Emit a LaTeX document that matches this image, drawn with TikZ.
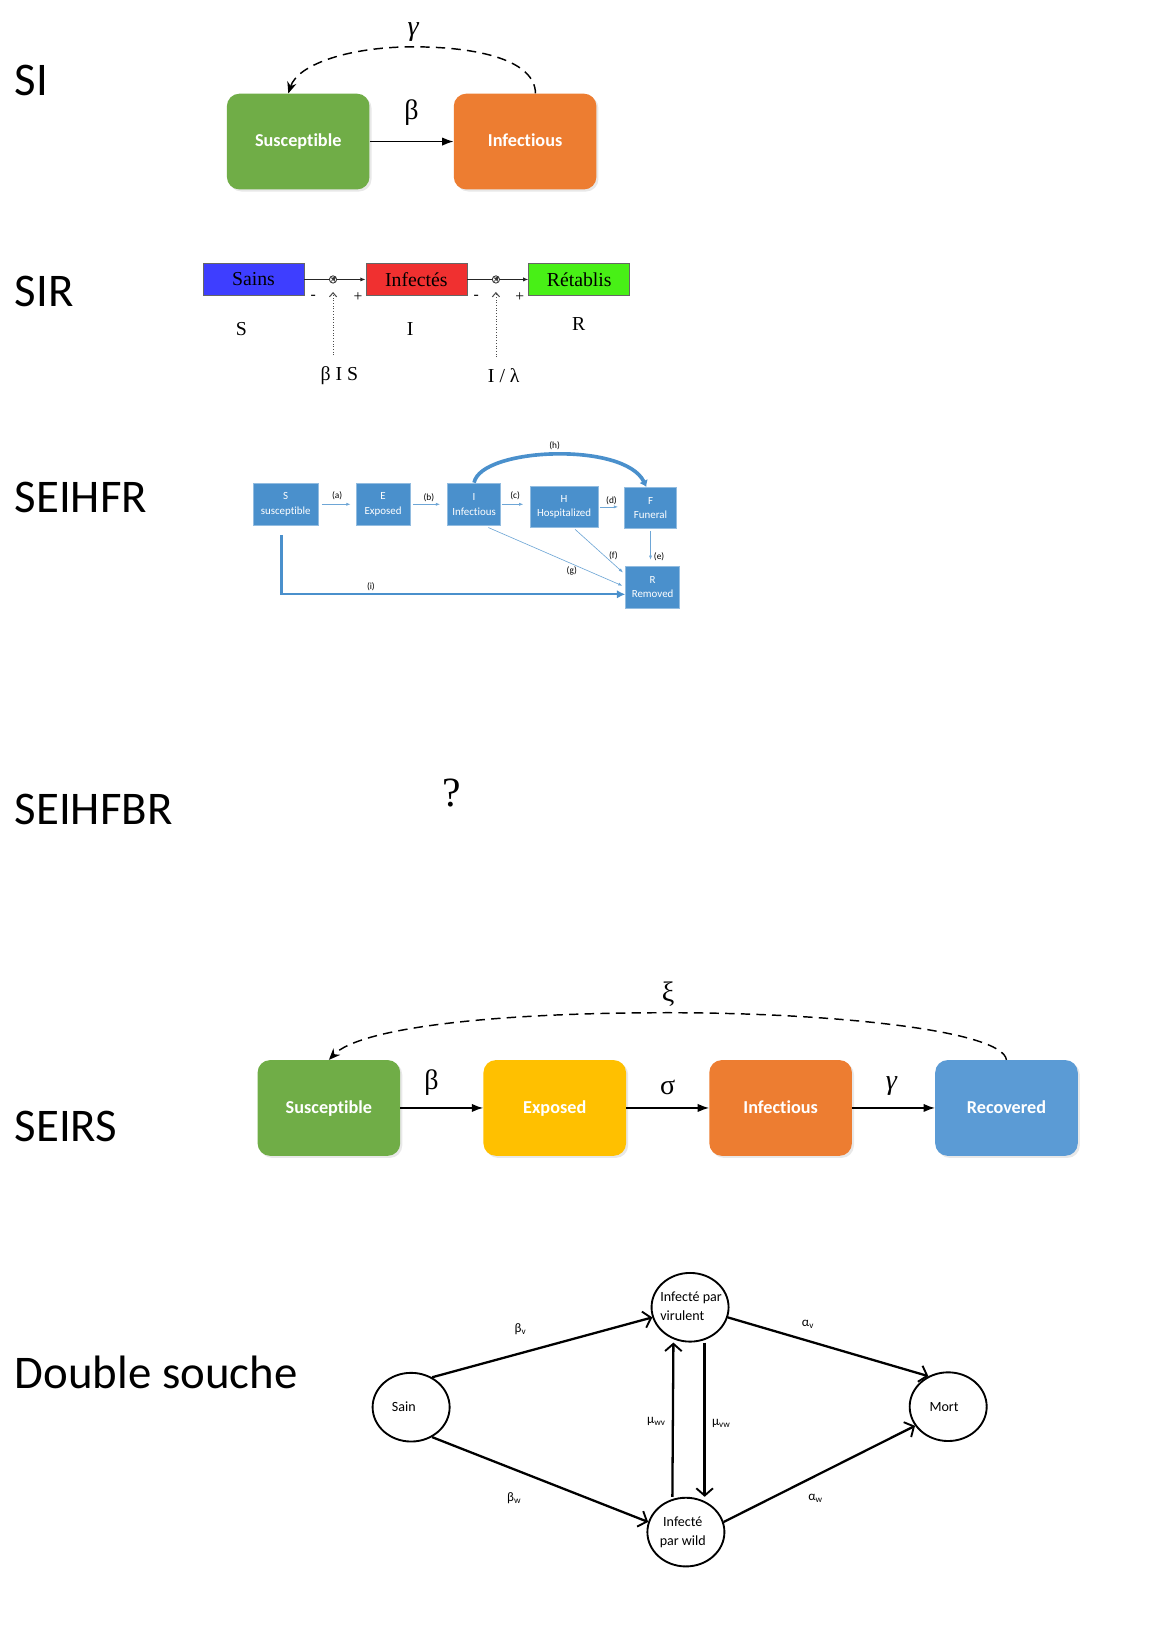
\documentclass[tikz,border=0pt]{standalone}
\usepackage{fontspec}
\setmainfont{Liberation Serif}
\newfontfamily\calibri[Ligatures=NoCommon]{Carlito}
\usetikzlibrary{arrows.meta,shapes.geometric,shadows,calc}

\definecolor{cgreen}{RGB}{112,173,71}
\definecolor{corange}{RGB}{237,125,49}
\definecolor{cyellow}{RGB}{255,192,0}
\definecolor{cblue}{RGB}{91,155,213}
\definecolor{sainsblue}{RGB}{62,62,255}
\definecolor{infred}{RGB}{240,48,48}
\definecolor{retgreen}{RGB}{72,240,22}
\definecolor{seihblue}{RGB}{74,144,204}

\tikzset{
  title/.style={font=\calibri\fontsize{45}{50}\selectfont, anchor=base west, inner sep=0},
  compart/.style={rounded corners=12pt, minimum width=137pt, minimum height=92pt,
    text=white, font=\calibri\bfseries\fontsize{17.5}{19}\selectfont, text height=12pt, text depth=2pt,
    drop shadow={opacity=0.18, shadow xshift=2pt, shadow yshift=-2pt}},
  flow/.style={-{Latex[length=11pt,width=8pt]}, line width=1.3pt},
  feedback/.style={-{Stealth[length=11pt,width=9pt]}, line width=1.4pt, dash pattern=on 9pt off 6pt},
  rate/.style={font=\fontsize{27}{30}\selectfont},
  sirbox/.style={draw=black!60, line width=0.6pt, minimum width=97pt, minimum height=31pt,
    inner sep=0, font=\fontsize{19}{21}\selectfont},
  sirflow/.style={-{Latex[length=5pt,width=4pt]}, line width=1.4pt, black!85},
  sirjoint/.style={circle, draw=black!80, line width=0.8pt, fill=white, inner sep=0, minimum size=7pt,
    path picture={\draw[line width=0.5pt] (path picture bounding box.north west) -- (path picture bounding box.south east)
      (path picture bounding box.south west) -- (path picture bounding box.north east);}},
  sirtext/.style={font=\fontsize{19}{21}\selectfont, inner sep=0},
  sirsign/.style={font=\fontsize{15}{15}\selectfont, inner sep=0},
  probe/.style={dotted, line width=0.6pt, black!70, -{Straight Barb[length=4pt,width=7pt,line width=1pt]}},
  seihbox/.style={fill=seihblue, draw=seihblue!60!white, line width=0.5pt, text=white,
    font=\calibri\fontsize{10.5}{14}\selectfont, align=center, inner sep=0, minimum height=41pt},
  seiharrow/.style={-{Latex[length=4pt,width=3pt]}, line width=0.6pt, seihblue!80!white},
  seihlabel/.style={font=\calibri\fontsize{9}{9}\selectfont, inner sep=1pt, text=black},
  state/.style={ellipse, draw, line width=1.8pt, minimum width=74pt, minimum height=66pt, inner sep=0},
  statetext/.style={font=\calibri\fontsize{13.5}{18}\selectfont, inner sep=0},
  trans/.style={-{Straight Barb[length=7pt,width=16pt,line width=1.8pt]}, line width=2.2pt},
  translabel/.style={font=\calibri\fontsize{12.5}{13}\selectfont, inner sep=0},
}

\begin{document}
\begin{tikzpicture}[x=1pt,y=-1pt]
  \useasboundingbox[fill=white] (0,0) rectangle (1120.3,1568);

  % model names
  \node[title] (tSI) at (14,92) {SI};
  \node[title] (tSIR) at (14,294) {SIR};
  \node[title] (tSEIHFR) at (14,492) {SEIHFR};
  \node[title] (tSEIHFBR) at (14,792) {SEIHFBR};
  \node[title] (tSEIRS) at (14,1097) {SEIRS};
  \node[title] (tDouble) at (14,1334) {Double souche};

  % SI
  \node[compart, fill=cgreen] (siS) at (286.5,136) {Susceptible};
  \node[compart, fill=corange] (siI) at (504.5,136) {Infectious};
  \draw[flow] (siS) -- node[rate, yshift=28pt] {β} (siI);
  \draw[feedback] ([xshift=10pt]siI.north) .. controls (514,58) and (460,45) .. (397,45)
    node[rate, above=1pt] {\itshape γ}
    .. controls (335,45) and (286,62) .. ([xshift=-9.5pt]siS.north);

  % SIR
  \node[sirbox, fill=sainsblue] (sains) at (243.5,268.5) {Sains};
  \node[sirbox, fill=infred] (infec) at (400,268.5) {Infectés};
  \node[sirbox, fill=retgreen] (retab) at (556.5,268.5) {Rétablis};
  \draw[sirflow] (sains) -- node[sirjoint, pos=0.47] (j1) {} (infec);
  \draw[sirflow] (infec) -- node[sirjoint, pos=0.47] (j2) {} (retab);
  \node[sirsign] at ([xshift=-19pt,yshift=-17pt]j1.center) {-};
  \node[sirsign] at ([xshift=24pt,yshift=-17pt]j1.center) {+};
  \node[sirsign] at ([xshift=-19pt,yshift=-17pt]j2.center) {-};
  \node[sirsign] at ([xshift=23pt,yshift=-17pt]j2.center) {+};
  \node[sirtext] (sirS) at (232,316) {S};
  \node[sirtext] (sirI) at (394,316) {I};
  \node[sirtext] (sirR) at (556,311) {R};
  \node[sirtext] (bis) at (326,361) {β I S};
  \node[sirtext] (il) at (484,361) {I / λ};
  \draw[probe] ($(j1 |- bis.north)+(0,-11)$) -- ([yshift=-12pt]j1.center);
  \draw[probe] ($(j2 |- il.north)+(0,-11)$) -- ([yshift=-12pt]j2.center);

  % SEIHFR
  \node[seihbox, minimum width=63pt] (hS) at (274.5,484.5) {S\\susceptible};
  \node[seihbox, minimum width=52pt] (hE) at (368,484.5) {E\\Exposed};
  \node[seihbox, minimum width=51pt] (hI) at (455.5,484.5) {I\\Infectious};
  \node[seihbox, minimum width=66pt, minimum height=40pt] (hH) at (542,487) {H\\Hospitalized};
  \node[seihbox, minimum width=50pt, minimum height=40pt] (hF) at (625,488) {F\\Funeral};
  \node[seihbox, minimum width=52pt, minimum height=40pt] (hR) at (627,564) {R\\Removed};
  \draw[seiharrow, shorten <=3pt, shorten >=5pt] (hS) -- node[seihlabel, above=3pt] {(a)} (hE);
  \draw[seiharrow, shorten <=3pt, shorten >=7pt] (hE) -- node[seihlabel, above=1pt] {(b)} (hI);
  \draw[seiharrow, shorten <=1pt, shorten >=6pt] (hI.east) -- node[seihlabel, above=3pt] {(c)} (hI.east -| hH.west);
  \draw[seiharrow, shorten <=1pt, shorten >=6pt] (hH.east) -- node[seihlabel, above=1pt] {(d)} (hH.east -| hF.west);
  \draw[seiharrow, shorten <=2pt, shorten >=6pt] (hF.south) -- node[seihlabel, right=2pt, pos=0.75] {(e)} (hF.south |- hR.north);
  \draw[seiharrow, shorten <=2pt, shorten >=3pt] ([xshift=9pt]hH.south) -- node[seihlabel, right=3pt, pos=0.6] {(f)} ([yshift=12pt]hR.west);
  \draw[seiharrow, shorten <=4pt, shorten >=3pt] ([xshift=10pt]hI.south) -- node[seihlabel, below=1pt, pos=0.62] {(g)} (hR.west);
  \draw[seihblue, line width=3.5pt, -{Latex[length=6pt,width=9pt]}] (hI.north) .. controls (462,430) and (600,424) .. ([xshift=-4pt]hF.north)
    node[seihlabel, pos=0.5, above=2pt] {(h)};
  \draw[seihblue, line width=2.2pt, -{Latex[length=8pt,width=8pt]}] ([xshift=-4pt,yshift=-9pt]hS.south) |- node[seihlabel, pos=0.63, above=1pt] {(i)} ([yshift=-7pt]hR.west);

  % SEIHFBR
  \node[font=\fontsize{40}{44}\selectfont] (unknown) at (434,762) {?};

  % SEIRS
  \node[compart, fill=cgreen] (sS) at (316,1064.5) {Susceptible};
  \node[compart, fill=cyellow] (sE) at (533,1064.5) {Exposed};
  \node[compart, fill=corange] (sI) at (750,1064.5) {Infectious};
  \node[compart, fill=cblue] (sR) at (967,1064.5) {Recovered};
  \draw[flow] (sS) -- node[rate, xshift=-10pt, yshift=24pt] {β} (sE);
  \draw[flow] (sE) -- node[rate, yshift=20pt] {σ} (sI);
  \draw[flow] (sI) -- node[rate, xshift=-2pt, yshift=21pt] {\itshape γ} (sR);
  \draw[feedback] (sR.north) .. controls (963,990) and (800,973) .. (642,973)
    node[rate, above=2pt] {ξ}
    .. controls (470,973) and (345,988) .. (sS.north);

  % Double souche
  \node[state] (sain) at (395,1352) {};
  \node[state] (vir) at (663,1256) {};
  \node[state] (wild) at (659,1472) {};
  \node[state] (mort) at (911,1351.5) {};
  \node[statetext] (sainT) at ([xshift=-7pt]sain.center) {Sain};
  \node[statetext, align=left] (virT) at ([xshift=1pt,yshift=1pt]vir.center) {Infecté par\\virulent};
  \node[statetext, align=center] (wildT) at ([xshift=-3pt]wild.center) {Infecté\\par wild};
  \node[statetext] (mortT) at ([xshift=-4pt]mort.center) {Mort};
  \draw[trans] (sain.55) -- node[translabel, pos=0.42, yshift=22pt, xshift=-4pt] {β\textsubscript{v}} (vir.195);
  \draw[trans] (sain.-55) -- node[translabel, pos=0.38, yshift=-28pt] {β\textsubscript{w}} (wild.165);
  \draw[trans] (vir.-15) -- node[translabel, pos=0.42, yshift=17pt, xshift=-4pt] {α\textsubscript{v}} (mort.123);
  \draw[trans] (wild.15) -- node[translabel, pos=0.48, yshift=-22pt] {α\textsubscript{w}} (mort.-150);
  \draw[trans] ([xshift=-13pt]wild.north) -- node[translabel, left=6pt, yshift=-2pt] {μ\textsubscript{wv}} ([xshift=-16pt]vir.south);
  \draw[trans] ([xshift=14pt]vir.south) -- node[translabel, right=6pt, yshift=-4pt] {μ\textsubscript{vw}} ([xshift=18pt]wild.north);
\end{tikzpicture}
\end{document}
